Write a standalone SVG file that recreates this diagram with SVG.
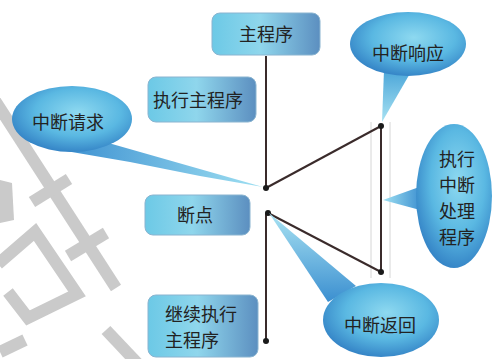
<svg xmlns="http://www.w3.org/2000/svg" width="493" height="359" viewBox="0 0 493 359">
<defs>
<linearGradient id="box" x1="0" y1="0" x2="1" y2="0">
<stop offset="0" stop-color="#6cc9e6"/>
<stop offset="0.45" stop-color="#8fd6ec"/>
<stop offset="1" stop-color="#5c8fc0"/>
</linearGradient>
<radialGradient id="bub" cx="0.55" cy="0.4" r="0.65">
<stop offset="0" stop-color="#8ed9f0"/>
<stop offset="0.55" stop-color="#5ab8e2"/>
<stop offset="1" stop-color="#2f7cc2"/>
</radialGradient>
<linearGradient id="tail" x1="0" y1="0" x2="1" y2="0">
<stop offset="0" stop-color="#3b8fd0"/>
<stop offset="1" stop-color="#9fe0f2"/>
</linearGradient>
<linearGradient id="tailR" x1="1" y1="0" x2="0" y2="0">
<stop offset="0" stop-color="#3b8fd0"/>
<stop offset="1" stop-color="#9fe0f2"/>
</linearGradient>
<linearGradient id="tailV" x1="0" y1="0" x2="0" y2="1">
<stop offset="0" stop-color="#4aa5d8"/>
<stop offset="1" stop-color="#a8e2f2"/>
</linearGradient>
<linearGradient id="tailU" x1="0" y1="1" x2="0" y2="0">
<stop offset="0" stop-color="#3b8fd0"/>
<stop offset="1" stop-color="#a8e2f2"/>
</linearGradient>
</defs>
<style>
.box{fill:url(#box);stroke:#8ab4d0;stroke-width:1}
.bub{fill:url(#bub)}
.t{font-family:"Noto Sans CJK SC","Noto Sans CJK TC",sans-serif;fill:#222;font-size:18px;text-anchor:middle}
.l{text-anchor:start}
.wm{stroke:#cacaca;stroke-width:12;fill:none;stroke-linecap:butt;stroke-linejoin:miter}
.ln{stroke:#3a2b2b;stroke-width:2;fill:none}
.faint{stroke:#d6d6d6;stroke-width:1;fill:none}
.dot{fill:#1a1a1a}
</style>
<rect width="493" height="359" fill="#ffffff"/>
<g id="watermark">
<line class="wm" x1="-8" y1="96" x2="116" y2="288"/>
<line class="wm" x1="32" y1="202" x2="69" y2="179"/>
<line class="wm" x1="68" y1="256" x2="106" y2="233"/>
<polygon points="0,180 12,183 14,220 0,223" fill="#cacaca"/>
<polyline class="wm" points="-2,264 35,232 77,294 28,318 8,292"/>
<line class="wm" x1="0" y1="352" x2="25" y2="340"/>
<line class="wm" x1="106" y1="330" x2="140" y2="366"/>
</g>
<g id="connectors">
<line class="faint" x1="371" y1="122" x2="371" y2="278"/>
<line class="faint" x1="390" y1="122" x2="390" y2="278"/>
<line class="ln" x1="266" y1="56" x2="266" y2="188"/>
<line class="ln" x1="266" y1="188" x2="381" y2="126"/>
<line class="ln" x1="381" y1="126" x2="381" y2="272"/>
<line class="ln" x1="268" y1="213" x2="381" y2="272"/>
<line class="ln" x1="266" y1="213" x2="266" y2="341"/>
<circle class="dot" cx="266" cy="188" r="3"/>
<circle class="dot" cx="381" cy="126" r="3"/>
<circle class="dot" cx="381" cy="272" r="3"/>
<circle class="dot" cx="268" cy="213" r="3"/>
<circle class="dot" cx="266" cy="341" r="3"/>
</g>
<g id="main">
<rect class="box" x="212" y="13" width="108" height="42" rx="8"/>
<text class="t" x="266" y="41" font-size="17">主程序</text>
</g>
<g id="exec-main">
<rect class="box" x="148" y="77" width="108" height="45" rx="8"/>
<text class="t" x="198" y="107">执行主程序</text>
</g>
<g id="breakpoint">
<rect class="box" x="145" y="195" width="105" height="40" rx="8"/>
<text class="t" x="195" y="222">断点</text>
</g>
<g id="continue">
<rect class="box" x="148" y="295" width="110" height="62" rx="8"/>
<text class="t l" x="165" y="321">继续执行</text>
<text class="t l" x="165" y="347">主程序</text>
</g>
<g id="int-request">
<path d="M105,142 L263,187 L200,176 L130,162 L60,150 Z" fill="url(#tail)"/>
<ellipse class="bub" cx="72" cy="119" rx="60" ry="33"/>
<text class="t" x="68" y="129" font-size="19">中断请求</text>
</g>
<g id="int-response">
<path d="M384,70 L412,70 L382,122 Z" fill="url(#tailV)"/>
<ellipse class="bub" cx="408" cy="44" rx="58" ry="32"/>
<text class="t" x="408" y="60" font-size="19">中断响应</text>
</g>
<g id="int-handler">
<path d="M422,186 L420,210 L383,200 Z" fill="url(#tailR)"/>
<ellipse class="bub" cx="454" cy="196" rx="38" ry="72"/>
<text class="t" x="457" y="166">执行</text>
<text class="t" x="457" y="192">中断</text>
<text class="t" x="457" y="218">处理</text>
<text class="t" x="457" y="244">程序</text>
</g>
<g id="int-return">
<path d="M269,213 L356,286 L328,302 Z" fill="url(#tailU)"/>
<ellipse class="bub" cx="381" cy="320" rx="58" ry="37"/>
<text class="t" x="380" y="332" font-size="19">中断返回</text>
</g>
</svg>
